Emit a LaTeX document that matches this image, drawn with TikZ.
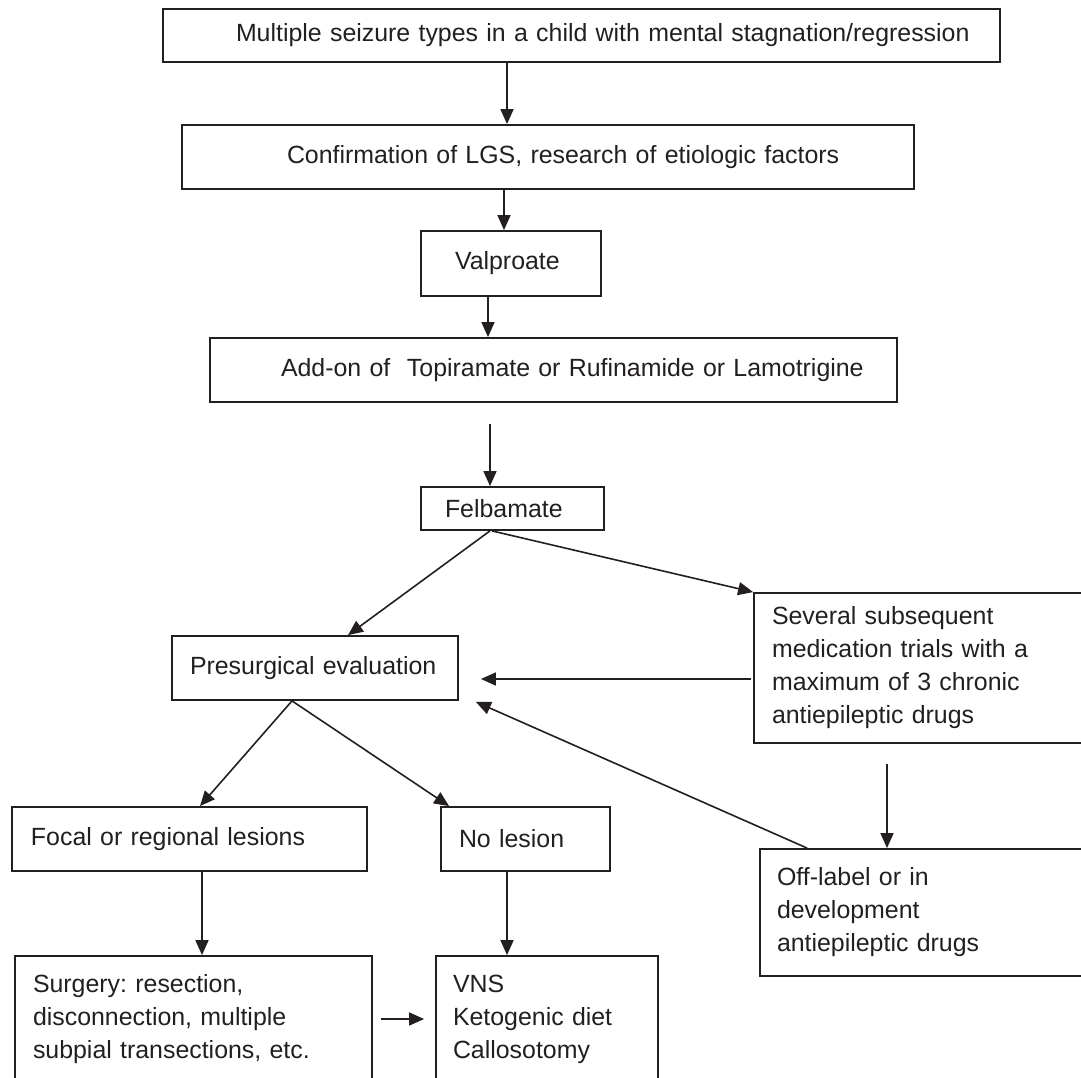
\documentclass[tikz,border=0pt]{standalone}
\usepackage{fontspec}
\setmainfont{Liberation Sans}
\usetikzlibrary{arrows.meta,calc}
\definecolor{ink}{RGB}{35,31,32}
\newcommand\pd[1]{\hspace*{#1pt}}
\frenchspacing
\begin{document}
\begin{tikzpicture}[x=1pt,y=-1pt,
  box/.style={draw=ink, line width=1.8pt, align=left, inner xsep=0pt, inner ysep=0pt,
    text=ink, font=\fontsize{24.9}{33}\selectfont\frenchspacing},
  arr/.style={draw=ink, line width=1.6pt, -{Triangle[length=15pt,width=13pt]}}]
\useasboundingbox (0,0) rectangle (1081,1078);
\clip (0,0) rectangle (1081,1078);
% boxes
\node[box, text width=837pt, minimum height=53pt] (b1) at (581.5,35.5)
  {\pd{73}Multiple seizure types in a child with mental stagnation/regression};
\node[box, text width=732pt, minimum height=64pt] (b2) at (548,157)
  {\pd{105}Confirmation of LGS, research of etiologic factors};
\node[box, text width=180pt, minimum height=65pt] (b3) at (511,263.5)
  {\pd{34}Valproate};
\node[box, text width=687pt, minimum height=64pt] (b4) at (553.5,370)
  {\pd{71}Add-on of\ \ Topiramate or Rufinamide or Lamotrigine};
\node[box, text width=183pt, minimum height=43pt] (b5) at (512.5,508.5)
  {\pd{24}Felbamate};
\node[box, text width=340pt, minimum height=150pt] (sev) at (924,668)
  {\pd{18}Several subsequent\\\pd{18}medication trials with a\\\pd{18}maximum of 3 chronic\\\pd{18}antiepileptic drugs};
\node[box, text width=286pt, minimum height=64pt] (pre) at (315,668)
  {\pd{18}Presurgical evaluation};
\node[box, text width=355pt, minimum height=64pt] (foc) at (189.5,839)
  {\pd{19}Focal or regional lesions};
\node[box, text width=169pt, minimum height=64pt] (nol) at (525.5,839)
  {\pd{18}No lesion};
\node[box, text width=357pt, minimum height=126pt] (sur) at (193.5,1019)
  {\pd{18}Surgery: resection,\\\pd{18}disconnection, multiple\\\pd{18}subpial transections, etc.};
\node[box, text width=222pt, minimum height=126pt] (vns) at (547,1019)
  {\pd{17}VNS\\\pd{17}Ketogenic diet\\\pd{17}Callosotomy};
\node[box, text width=334pt, minimum height=127pt] (off) at (927,912.5)
  {\pd{17}Off-label or in\\\pd{17}development\\\pd{17}antiepileptic drugs};
% connectors
\draw[arr] ([xshift=-74.5pt]b1.south) -- ([xshift=-41pt]b2.north);
\draw[arr] ([xshift=-44pt]b2.south) -- ([xshift=-7pt]b3.north);
\draw[arr] ([xshift=-23pt]b3.south) -- ([xshift=-65.5pt]b4.north);
\draw[arr] ([xshift=-63.5pt,yshift=-21pt]b4.south) -- ([xshift=-22.5pt]b5.north);
\draw[arr] ([xshift=-22.5pt]b5.south) -- ([xshift=33pt]pre.north);
\draw[arr] ([xshift=-20.5pt]b5.south) -- (sev.north west);
\draw[arr] ([xshift=-2pt,yshift=-11pt]sev.west) -- ([xshift=22pt,yshift=-11pt]pre.east);
\draw[arr] ([xshift=48pt]off.north west) -- ([xshift=17pt,yshift=-1pt]pre.south east);
\draw[arr] ([xshift=-23pt]pre.south) -- ([xshift=10.5pt]foc.north);
\draw[arr] ([xshift=-23pt]pre.south) -- ([xshift=9pt]nol.north west);
\draw[arr] ([xshift=12.5pt]foc.south) -- ([xshift=8.5pt]sur.north);
\draw[arr] ([xshift=-18.5pt]nol.south) -- ([xshift=-40pt]vns.north);
\draw[arr] ([xshift=8pt]sur.east) -- ([xshift=-11pt]vns.west);
\draw[arr] ([xshift=-37pt,yshift=-20pt]sev.south) -- ([xshift=-40pt]off.north);
\end{tikzpicture}
\end{document}
